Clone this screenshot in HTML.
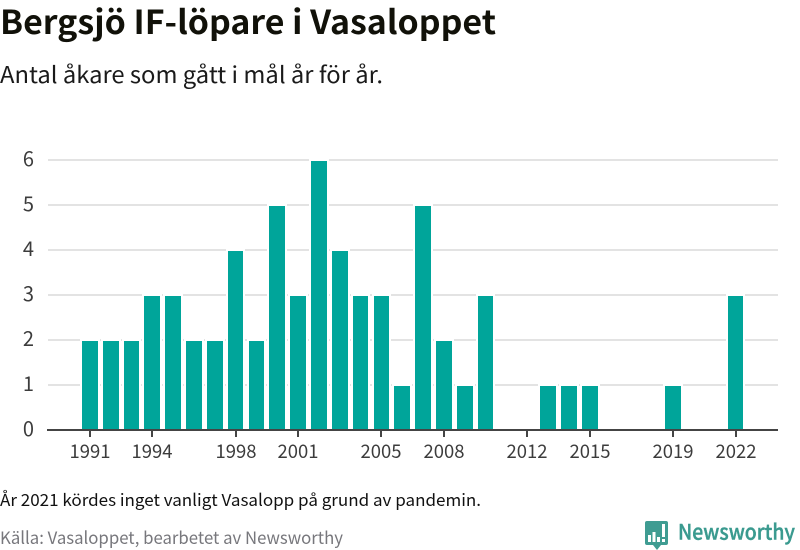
<!DOCTYPE html>
<html lang="sv">
<head>
<meta charset="utf-8">
<title>Bergsjö IF-löpare i Vasaloppet</title>
<style>
html,body{margin:0;padding:0;background:#fff;}
#root{position:relative;width:800px;height:550px;overflow:hidden;background:#fff;}
svg{position:absolute;left:0;top:0;}
.txt{font-family:"Noto Sans CJK SC","Liberation Sans",sans-serif;}
</style>
</head>
<body>
<div id="root">
<svg id="chart" width="800" height="550" viewBox="0 0 800 550">
  <text class="txt" x="0" y="34" font-size="33" font-weight="700" fill="#111109" textLength="496" lengthAdjust="spacingAndGlyphs">Bergsjö IF-löpare i Vasaloppet</text>
  <text class="txt" x="0" y="83" font-size="23" fill="#1a1a1a" textLength="383" lengthAdjust="spacingAndGlyphs">Antal åkare som gått i mål år för år.</text>
  <g id="grid"></g>
  <g id="bars"></g>
  <g id="yaxis"></g>
  <g id="xaxis"></g>
  <text class="txt" x="0" y="506" font-size="16.5" fill="#111" textLength="481" lengthAdjust="spacingAndGlyphs">År 2021 kördes inget vanligt Vasalopp på grund av pandemin.</text>
  <text class="txt" x="0" y="544" font-size="17" fill="#77777c" textLength="343" lengthAdjust="spacingAndGlyphs">Källa: Vasaloppet, bearbetet av Newsworthy</text>
  <g>
    <path d="M647 521h19a2 2 0 0 1 2 2v20a2 2 0 0 1-2 2h-5l-4 5-4-5h-6a2 2 0 0 1-2-2v-20a2 2 0 0 1 2-2z" fill="#3f9c92"/>
    <rect x="648" y="535" width="3" height="7" fill="#fff"/>
    <rect x="652.5" y="532" width="3" height="10" fill="#fff"/>
    <rect x="657" y="537" width="3" height="5" fill="#fff"/>
    <rect x="662" y="524" width="3" height="13" fill="#fff"/>
    <rect x="662" y="539" width="3" height="3" fill="#fff"/>
    <text class="txt" x="678" y="539.5" font-size="21" font-weight="500" fill="#3a9a8f" stroke="#3a9a8f" stroke-width="0.4" textLength="117" lengthAdjust="spacingAndGlyphs">Newsworthy</text>
  </g>
</svg>
</div>
<script>
const years = [1991,1992,1993,1994,1995,1996,1997,1998,1999,2000,2001,2002,2003,2004,2005,2006,2007,2008,2009,2010,2011,2012,2013,2014,2015,2016,2017,2018,2019,2020,2021,2022];
const values = [2,2,2,3,3,2,2,4,2,5,3,6,4,3,3,1,5,2,1,3,0,0,1,1,1,0,0,0,1,0,0,3];
const xTickYears = [1991,1994,1998,2001,2005,2008,2012,2015,2019,2022];
const yTicks = [0,1,2,3,4,5,6];

const NS = 'http://www.w3.org/2000/svg';
function xScale(year){ return 89.84 + (year - 1991) * 20.83; }
function yScale(v){ return 430 - v * 45; }

function make(tag, attrs, parent){
  const el = document.createElementNS(NS, tag);
  for (const k in attrs) el.setAttribute(k, attrs[k]);
  parent.appendChild(el);
  return el;
}

const gridG = document.getElementById('grid');
const barsG = document.getElementById('bars');
const yG = document.getElementById('yaxis');
const xG = document.getElementById('xaxis');

yTicks.forEach(function(t){
  if (t > 0) {
    const line = make('rect', {x:48, y:yScale(t)-1, width:730, height:2, fill:'#e3e3e3'}, gridG);
    
    
  }
  const label = make('text', {x:34, y:yScale(t)+6, 'text-anchor':'end', 'font-size':'20', fill:'#3c3c3c', 'class':'txt'}, yG);
  
  
  label.textContent = t;
});

years.forEach(function(year, i){
  const v = values[i];
  if (v <= 0) return;
  const left = Math.round(xScale(year) - 7.84);
  const right = Math.round(xScale(year) + 7.84);
  const top = yScale(v) + 1;
  const halo = make('rect', {x:left-2, y:top-2, width:right-left+4, height:yScale(0)-top+2, fill:'#fff'}, barsG);
  
  
  const bar = make('rect', {x:left, y:top, width:right-left, height:yScale(0)-top, fill:'#00a59a'}, barsG);
  
  
});

const axisLine = make('rect', {x:47, y:429, width:731, height:2, fill:'#444'}, xG);



xTickYears.forEach(function(year){
  const px = Math.round(xScale(year));
  const tick = make('rect', {x:px-1, y:431, width:2, height:6, fill:'#444'}, xG);
  
  
  const label = make('text', {x:px, y:458, 'text-anchor':'middle', 'font-size':'19', fill:'#3c3c3c', 'class':'txt', textLength:'41', lengthAdjust:'spacingAndGlyphs'}, xG);
  
  
  label.textContent = year;
});
</script>
</body>
</html>
